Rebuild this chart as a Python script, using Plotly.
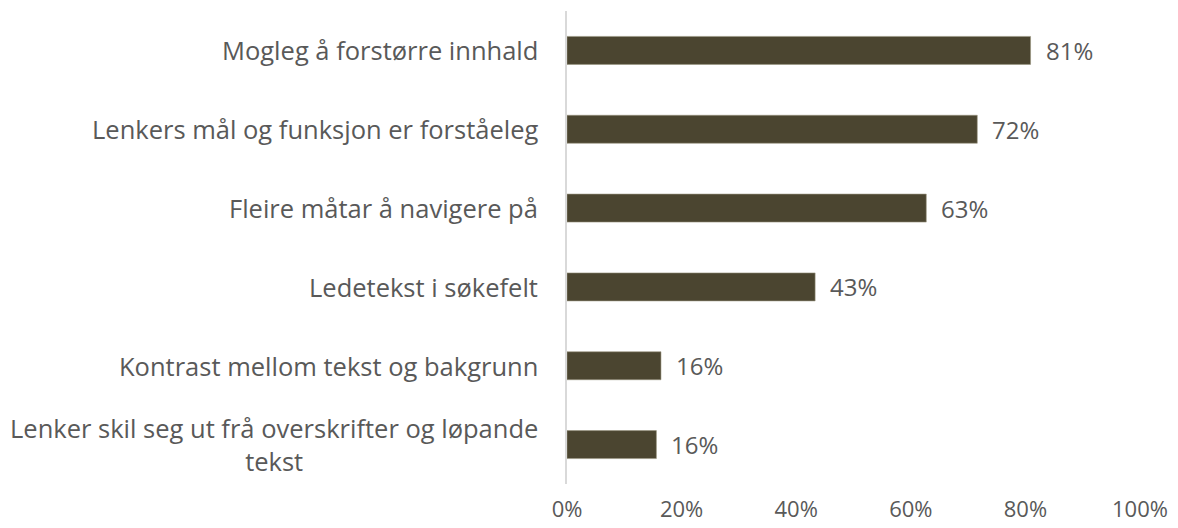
import plotly.graph_objects as go

categories = [
    "Mogleg å forstørre innhald",
    "Lenkers mål og funksjon er forståeleg",
    "Fleire måtar å navigere på",
    "Ledetekst i søkefelt",
    "Kontrast mellom tekst og bakgrunn",
    "Lenker skil seg ut frå overskrifter og løpande<br>tekst",
]
values = [0.809, 0.716, 0.627, 0.433, 0.164, 0.156]
value_labels = ["81%", "72%", "63%", "43%", "16%", "16%"]
tick_vals = [0, 0.2, 0.4, 0.6, 0.8, 1.0]
tick_text = ["0%", "20%", "40%", "60%", "80%", "100%"]

FONT = "Open Sans"
GREY = "#595959"
BAR = "#4B4530"

fig = go.Figure(go.Bar(
    x=values, y=categories, orientation="h",
    marker=dict(color=BAR, line=dict(color="#9a957f", width=0.6)),
    hoverinfo="skip",
))

annotations = []
for c, v, t in zip(categories, values, value_labels):
    annotations.append(dict(x=v, y=c, xref="x", yref="y", text=t, showarrow=False,
                            xanchor="left", xshift=13, font=dict(family=FONT, size=24, color=GREY)))
    annotations.append(dict(x=0, y=c, xref="paper", yref="y", text=c, showarrow=False,
                            xanchor="right", align="center", xshift=-27,
                            font=dict(family=FONT, size=25.5, color=GREY)))

# page body has an 8px default margin; compensate so the figure sits like the reference
fig.update_layout(
    width=1170, height=520,
    margin=dict(l=559, r=38, t=3, b=44),
    paper_bgcolor="white", plot_bgcolor="white",
    bargap=0.645,
    showlegend=False,
    annotations=annotations,
    xaxis=dict(range=[0, 1], tickvals=tick_vals, ticktext=tick_text, showgrid=False,
               zeroline=False, showline=False, ticks="outside", ticklen=6, tickcolor="white",
               tickfont=dict(family=FONT, size=22, color=GREY)),
    yaxis=dict(autorange="reversed", showticklabels=False, showgrid=False, zeroline=False,
               showline=True, linecolor="#d9d9d9", linewidth=1.5, ticks=""),
)

fig.write_html("out.html")
